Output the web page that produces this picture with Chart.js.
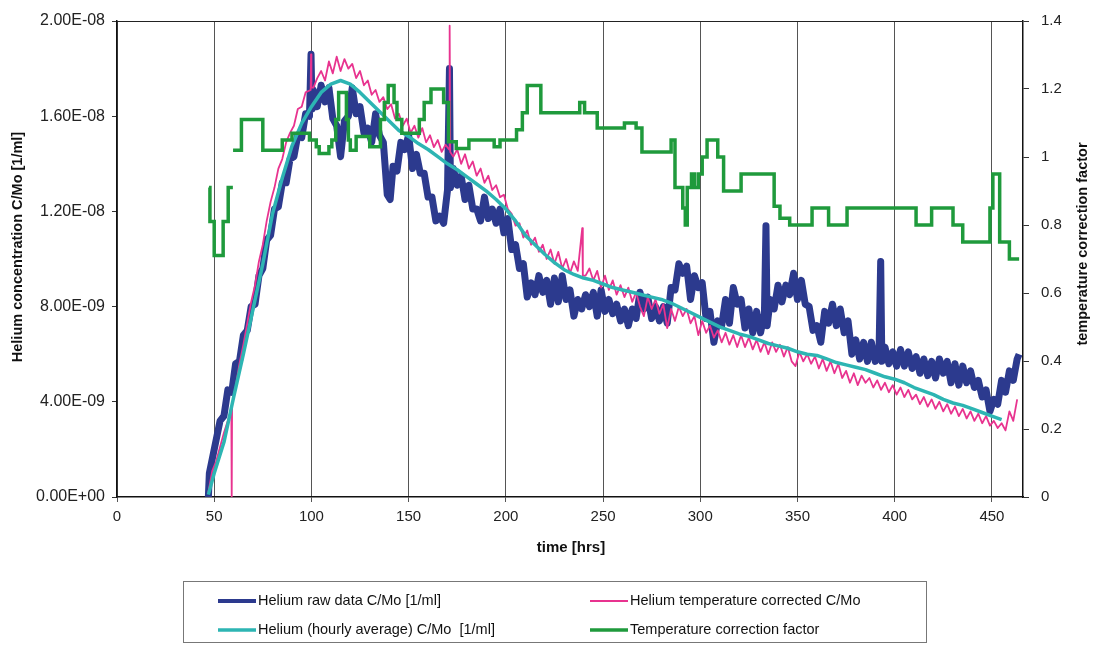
<!DOCTYPE html>
<html>
<head>
<meta charset="utf-8">
<title>Helium concentration vs time</title>
<script src="https://cdn.jsdelivr.net/npm/chart.js@4.4.0/dist/chart.umd.min.js"></script>
<style>
  body { margin: 0; background: #fff; }
  #wrap { width: 1095px; height: 646px; }
</style>
</head>
<body>
<div id="wrap"><canvas id="myChart" width="1095" height="646"></canvas></div>
<script>
// helium values are in units of 1E-09 [1/ml], time in hours
var rawTime = [47, 47.5, 49, 51, 53, 55, 57, 59, 61, 63, 65, 67, 69, 71, 73, 75, 77, 79, 81, 83, 85, 87, 89, 91, 93, 95, 97, 99, 99.8, 100.3,
  101, 103, 105, 107, 109, 111, 113, 115, 117, 119, 121, 123, 125, 127, 129, 131, 133, 135, 137, 139, 140.5, 142, 144, 146, 148, 150,
  152, 154, 156, 158, 160, 162, 164, 166, 168, 170, 171, 171.5, 173, 175, 177, 179, 181, 183, 185, 187, 189, 191, 193, 195, 197, 199,
  201, 203, 205, 207, 209, 211, 213, 215, 217, 219, 221, 223, 225, 227, 229, 231, 233, 235, 237, 239, 241, 243, 245, 247, 249, 251,
  253, 255, 257, 259, 261, 263, 265, 267, 269, 271, 273, 275, 277, 279, 281, 283, 285, 287, 289, 291, 293, 295, 297, 299, 301, 303,
  305, 307, 309, 311, 313, 315, 317, 319, 321, 323, 325, 327, 329, 331, 333, 333.8, 334.4, 336, 338, 340, 342, 344, 346, 348, 350,
  352, 354, 356, 358, 360, 362, 364, 366, 368, 370, 372, 374, 376, 378, 380, 382, 384, 386, 388, 390, 392, 392.8, 393.4, 395, 397,
  399, 401, 403, 405, 407, 409, 411, 413, 415, 417, 419, 421, 423, 425, 427, 429, 431, 433, 435, 437, 439, 441, 443, 445, 447, 449,
  451, 453, 455, 457, 459, 461, 463, 464];
var rawValues = [0.0, 1.0, 1.6, 2.4, 3.2, 3.4, 4.5, 4.4, 5.6, 5.7, 6.8, 7.0, 8.0, 8.1, 9.3, 9.6, 10.8, 11.0, 12.1, 12.2, 13.2, 13.2, 14.2, 14.3, 15.2, 15.1, 16.1, 16.0, 18.6, 16.3,
  17.1, 16.4, 17.3, 16.6, 17.2, 15.9, 15.6, 14.3, 15.8, 16.0, 17.2, 16.1, 16.4, 15.3, 15.5, 14.9, 16.1, 15.2, 14.9, 12.7, 12.5, 13.9, 13.7, 14.9, 14.6, 15.2,
  13.8, 14.4, 13.6, 13.6, 12.6, 12.6, 11.6, 11.8, 11.5, 12.9, 18.0, 13.0, 13.8, 13.1, 13.5, 12.5, 13.1, 12.1, 12.1, 11.6, 12.6, 11.7, 12.1, 11.5, 12.1, 11.1,
  11.7, 10.4, 10.6, 9.6, 9.8, 8.4, 9.0, 8.5, 9.3, 8.6, 9.1, 8.1, 9.2, 8.2, 9.3, 8.3, 8.7, 7.6, 8.3, 7.9, 8.5, 8.0, 8.6, 7.6, 8.7, 7.8,
  8.3, 7.7, 8.1, 7.4, 7.9, 7.2, 7.9, 7.5, 8.6, 7.9, 8.4, 7.5, 8.0, 7.4, 8.0, 7.3, 8.8, 8.7, 9.8, 9.4, 9.7, 8.3, 9.3, 8.8, 9.0, 7.5,
  7.8, 6.5, 7.4, 7.2, 8.3, 7.3, 8.8, 8.1, 8.3, 7.1, 7.9, 6.9, 7.8, 6.9, 7.7, 11.4, 7.2, 8.3, 7.9, 8.9, 8.2, 8.9, 8.5, 9.4, 8.3,
  9.1, 8.1, 8.0, 7.0, 7.2, 6.5, 7.8, 7.3, 8.1, 7.2, 7.9, 6.9, 7.4, 6.0, 6.6, 5.8, 6.5, 5.7, 6.5, 5.7, 6.3, 9.9, 5.7, 6.3, 5.6,
  6.1, 5.5, 6.2, 5.5, 6.1, 5.4, 5.9, 5.2, 5.8, 5.1, 5.7, 5.0, 5.8, 5.2, 5.7, 4.8, 5.6, 4.7, 5.5, 4.8, 5.3, 4.6, 4.9, 4.2, 4.5, 3.6,
  4.1, 3.9, 4.9, 4.4, 5.3, 4.9, 5.8, 6.0];

var corrTime = [47, 49, 51, 53, 55, 57, 58.8, 59, 59.2, 61, 63, 65, 67, 69, 71, 73, 75, 77, 79, 81, 83, 85, 87, 89, 91, 93, 95, 97, 99.6, 99.8, 100,
  101, 103, 105, 107, 109, 111, 113, 115, 117, 119, 121, 123, 125, 127, 129, 131, 133, 135, 137, 139, 141, 143, 145, 147, 149, 151,
  153, 155, 157, 159, 161, 163, 165, 167, 169, 170.8, 171.1, 171.4, 173, 175, 177, 179, 181, 183, 185, 187, 189, 191, 193, 195, 197,
  199, 201, 203, 205, 207, 209, 211, 213, 215, 217, 219, 221, 223, 225, 227, 229, 231, 233, 235, 237, 239.3, 239.6, 241, 243, 245,
  247, 249, 251, 253, 255, 257, 259, 261, 263, 265, 267, 269, 271, 273, 275, 277, 279, 281, 283, 285, 287, 289, 291, 293, 295, 297,
  299, 301, 303, 305, 307, 309, 311, 313, 315, 317, 319, 321, 323, 325, 327, 329, 331, 333, 335, 337, 339, 341, 343, 345, 347, 349,
  351, 353, 355, 357, 359, 361, 363, 365, 367, 369, 371, 373, 375, 377, 379, 381, 383, 385, 387, 389, 391, 393, 395, 397, 399, 401,
  403, 405, 407, 409, 411, 413, 415, 417, 419, 421, 423, 425, 427, 429, 431, 433, 435, 437, 439, 441, 443, 445, 447, 449, 451, 453,
  455, 457, 459, 461, 463];
var corrValues = [0.2, 1.1, 1.5, 2.1, 2.7, 3.2, 3.7, 0.0, 3.9, 4.6, 5.6, 6.4, 7.3, 8.2, 8.9, 9.9, 10.6, 11.6, 12.4, 13.0, 13.8, 14.2, 14.9, 15.3, 15.6, 16.3, 16.4, 17.0, 17.1, 18.6, 17.2,
  17.2, 17.6, 17.9, 17.5, 18.3, 17.8, 18.5, 17.9, 18.4, 18.0, 18.2, 17.6, 17.9, 17.3, 17.5, 16.9, 17.1, 16.6, 16.8, 16.3, 16.5, 15.9, 16.1, 15.6, 15.9, 15.3,
  15.6, 15.1, 15.5, 14.9, 15.2, 14.7, 15.0, 14.5, 14.8, 14.6, 19.8, 14.5, 14.3, 14.6, 14.0, 14.4, 13.8, 14.1, 13.5, 13.8, 13.2, 13.5, 12.9, 13.1, 12.6,
  12.7, 12.1, 11.9, 11.4, 11.5, 10.9, 11.2, 10.6, 10.9, 10.3, 10.6, 10.0, 10.4, 9.8, 10.3, 9.6, 10.0, 9.4, 9.9, 9.5, 11.3, 9.3, 9.3, 9.6, 9.1,
  9.5, 8.8, 9.3, 8.7, 9.1, 8.5, 8.9, 8.4, 8.8, 8.2, 8.6, 8.0, 7.6, 8.4, 7.9, 8.3, 7.7, 8.1, 7.1, 7.9, 7.4, 8.0, 7.6, 7.9, 7.3, 7.6,
  6.8, 7.4, 6.9, 7.2, 6.7, 7.0, 6.5, 6.9, 6.4, 6.8, 6.3, 6.8, 6.3, 6.7, 6.2, 6.6, 6.1, 6.5, 6.0, 6.5, 6.1, 6.4, 5.9, 6.3, 5.7, 5.5,
  6.1, 5.7, 6.0, 5.6, 5.9, 5.4, 5.8, 5.3, 5.7, 5.2, 5.6, 5.0, 5.3, 4.8, 5.2, 4.7, 5.1, 4.8, 5.0, 4.6, 4.9, 4.5, 4.8, 4.4, 4.7, 4.3,
  4.6, 4.2, 4.5, 4.1, 4.3, 3.9, 4.2, 3.8, 4.1, 3.7, 4.0, 3.6, 3.9, 3.5, 3.8, 3.4, 3.7, 3.3, 3.6, 3.2, 3.5, 3.1, 3.4, 3.0, 3.2, 2.9,
  3.1, 2.8, 3.6, 3.2, 4.1];

var avgTime = [47, 50, 55, 60, 65, 70, 75, 80, 85, 90, 95, 100, 105, 110, 115, 120, 125, 130, 135, 140, 145, 150, 155, 160, 165, 170,
  175, 180, 185, 190, 195, 200, 205, 210, 215, 220, 225, 230, 235, 240, 245, 250, 255, 260, 265, 270, 275, 280, 285, 290, 295, 300,
  305, 310, 315, 320, 325, 330, 335, 340, 345, 350, 355, 360, 365, 370, 375, 380, 385, 390, 395, 400, 405, 410, 415, 420, 425, 430,
  435, 440, 445, 450, 455];
var avgValues = [0.1, 1.0, 2.3, 4.2, 6.0, 7.9, 9.8, 11.9, 13.4, 14.75, 15.7, 16.4, 17.0, 17.35, 17.5, 17.35, 17.0, 16.6, 16.2, 15.8, 15.4, 15.15, 14.85, 14.6, 14.3, 14.0,
  13.75, 13.45, 13.15, 12.85, 12.5, 12.1, 11.6, 11.0, 10.6, 10.2, 9.85, 9.55, 9.35, 9.2, 9.1, 8.95, 8.8, 8.7, 8.6, 8.5, 8.4, 8.3, 8.15, 7.95, 7.75, 7.55,
  7.35, 7.15, 7.0, 6.85, 6.75, 6.6, 6.45, 6.35, 6.25, 6.1, 6.0, 5.95, 5.8, 5.65, 5.55, 5.45, 5.35, 5.2, 5.05, 4.95, 4.8, 4.6, 4.45, 4.3, 4.1, 3.95,
  3.85, 3.7, 3.55, 3.4, 3.25];

// step changes of the correction factor (value holds from its time onward); null = gap in the record
var factorTime = [47.3, 47.8, 50, 54.6, 57.2, 59.6, 59.65, 59.7, 64, 75, 85, 90, 99, 102.5, 104, 109, 110.5, 112.5, 114, 118, 119, 120, 123, 130,
  135.5, 137.5, 139.5, 142.5, 144, 146.5, 155.5, 158, 161.5, 168, 170.5, 174.5, 181, 194, 197, 205.5, 208.5, 211, 218, 238, 240.5, 247,
  261, 267, 270, 285, 287, 291, 292.3, 293.3, 295.5, 297, 299, 301, 303.5, 309, 312, 321, 338, 341, 346, 357.5, 366, 375.5, 411, 419,
  430, 435, 449, 450.5, 454, 459, 464];
var factorValues = [0.91, 0.81, 0.71, 0.81, 0.91, 0.91, null, 1.02, 1.11, 1.02, 1.05, 1.07, 1.05, 1.03, 1.01, 1.03, 1.05, 1.11, 1.19, 1.11, 1.05, 1.02, 1.06, 1.03,
  1.11, 1.16, 1.21, 1.16, 1.11, 1.07, 1.11, 1.16, 1.20, 1.16, 1.045, 1.025, 1.05, 1.03, 1.05, 1.08, 1.13, 1.21, 1.13, 1.16, 1.13, 1.085,
  1.10, 1.085, 1.015, 1.05, 0.91, 0.85, 0.80, 0.91, 0.95, 0.91, 0.95, 1.00, 1.05, 1.00, 0.90, 0.95, 0.855, 0.82, 0.80, 0.85, 0.80, 0.85, 0.80, 0.85,
  0.80, 0.75, 0.85, 0.95, 0.75, 0.70, 0.70];

var xTitle = "time [hrs]";
var yTitle = "Helium concentration C/Mo [1/ml]";
var y1Title = "temperature correction factor";

var FONT = "'Liberation Sans', Arial, sans-serif";
Chart.defaults.font.family = FONT;
Chart.defaults.color = "#222";

function toPoints(times, values) {
  return times.map(function (t, i) { return { x: t, y: values[i] }; });
}

// Excel style scientific label, e.g. 1.60E-08
function sci(v) {
  if (Math.abs(v) < 1e-15) return "0.00E+00";
  var parts = v.toExponential(2).split("e");
  var n = parseInt(parts[1], 10);
  return parts[0] + "E" + (n < 0 ? "-" : "+") + String(Math.abs(n)).padStart(2, "0");
}

// legend box under the plot, titles, top frame line
var extras = {
  id: "extras",
  afterDraw: function (chart) {
    var ctx = chart.ctx, a = chart.chartArea;
    ctx.save();
    ctx.strokeStyle = "#222";
    ctx.lineWidth = 1;
    ctx.beginPath();
    ctx.moveTo(a.left, a.top + 0.5);
    ctx.lineTo(a.right, a.top + 0.5);
    ctx.stroke();

    ctx.fillStyle = "#111";
    ctx.textAlign = "center";
    ctx.textBaseline = "middle";
    ctx.font = "bold 15px " + FONT;
    ctx.fillText(xTitle, 571, 548);

    ctx.save();
    ctx.translate(18, 247);
    ctx.rotate(-Math.PI / 2);
    ctx.font = "bold 14.5px " + FONT;
    ctx.fillText(yTitle, 0, 0);
    ctx.restore();

    ctx.save();
    ctx.translate(1083, 244);
    ctx.rotate(-Math.PI / 2);
    ctx.font = "bold 14.5px " + FONT;
    ctx.fillText(y1Title, 0, 0);
    ctx.restore();

    // legend: raw | corrected on the first row, hourly average | factor on the second
    ctx.strokeStyle = "#777";
    ctx.strokeRect(183.5, 581.5, 743, 61);
    var slots = [[590, 630], [218, 630], [590, 601], [218, 601]]; // by dataset index
    ctx.textAlign = "left";
    ctx.font = "14.5px " + FONT;
    chart.data.datasets.forEach(function (ds, i) {
      var s = slots[i];
      ctx.strokeStyle = ds.borderColor;
      ctx.lineWidth = Math.min(ds.borderWidth, 4);
      ctx.beginPath();
      ctx.moveTo(s[0], s[1]);
      ctx.lineTo(s[0] + 38, s[1]);
      ctx.stroke();
      ctx.fillStyle = "#111";
      ctx.fillText(ds.label, s[0] + 40, s[1]);
    });
    ctx.restore();
  }
};

var ctx = document.getElementById("myChart").getContext("2d");
var myChart = new Chart(ctx, {
  type: "line",
  data: {
    datasets: [
      {
        label: "Temperature correction factor",
        data: toPoints(factorTime, factorValues),
        yAxisID: "y1",
        borderColor: "#1f9a3c",
        borderWidth: 3.5,
        stepped: true,
        spanGaps: false,
        order: 0
      },
      {
        label: "Helium (hourly average) C/Mo  [1/ml]",
        data: toPoints(avgTime, avgValues),
        yAxisID: "y",
        borderColor: "#2db5b3",
        borderWidth: 3.5,
        borderJoinStyle: "round",
        order: 1
      },
      {
        label: "Helium temperature corrected C/Mo",
        data: toPoints(corrTime, corrValues),
        yAxisID: "y",
        borderColor: "#e8338f",
        borderWidth: 1.8,
        borderJoinStyle: "round",
        order: 2
      },
      {
        label: "Helium raw data C/Mo [1/ml]",
        data: toPoints(rawTime, rawValues),
        yAxisID: "y",
        borderColor: "#2c3a8e",
        borderWidth: 7,
        borderJoinStyle: "round",
        order: 3
      }
    ]
  },
  options: {
    responsive: false,
    animation: false,
    elements: { point: { radius: 0 }, line: { tension: 0 } },
    layout: { padding: { top: 18, left: 0, right: 0, bottom: 0 } },
    plugins: { legend: { display: false }, tooltip: { enabled: false } },
    scales: {
      x: {
        type: "linear",
        min: 0,
        max: 466,
        ticks: { stepSize: 50, includeBounds: false, padding: 6, font: { size: 15 }, maxRotation: 0 },
        grid: { color: "#555", lineWidth: 1, tickLength: 5 },
        border: { color: "#111", width: 1.5 },
        afterFit: function (s) { s.height = 149; }
      },
      y: {
        position: "left",
        min: 0,
        max: 20,
        ticks: { stepSize: 4, padding: 7, font: { size: 16 }, callback: function (v) { return sci(v * 1e-9); } },
        grid: { drawOnChartArea: false, tickLength: 5, color: "#333" },
        border: { color: "#111", width: 1.5 },
        afterFit: function (s) { s.width = 117; }
      },
      y1: {
        position: "right",
        min: 0,
        max: 1.4,
        ticks: { stepSize: 0.2, padding: 12, font: { size: 15 }, callback: function (v) { return String(Math.round(v * 10) / 10); } },
        grid: { drawOnChartArea: false, tickLength: 6, color: "#333" },
        border: { color: "#111", width: 1.5 },
        afterFit: function (s) { s.width = 72; }
      }
    }
  },
  plugins: [extras]
});
</script>
</body>
</html>
